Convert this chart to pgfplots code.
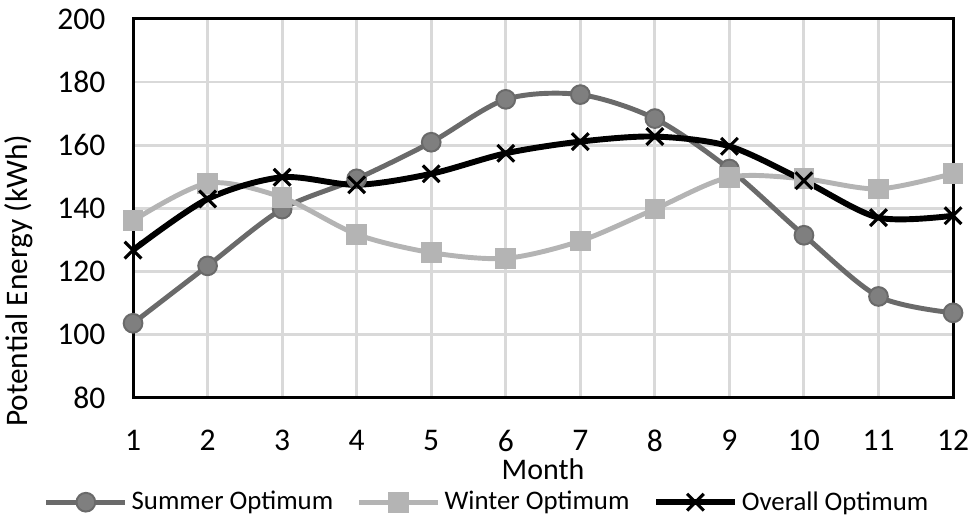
\documentclass[border=0pt]{standalone}
\usepackage{fontspec}
\setmainfont{Carlito}
\usepackage{pgfplots}
\pgfplotsset{compat=1.18}
\definecolor{sumc}{HTML}{6A6A6A}
\definecolor{sumf}{HTML}{7F7F7F}
\definecolor{winc}{HTML}{B4B4B4}
\definecolor{gridc}{HTML}{D9D9D9}
\begin{document}
\begin{tikzpicture}
\begin{axis}[
  name=ax,
  scale only axis,
  width=416pt, height=192pt,
  xmin=1, xmax=12, ymin=80, ymax=200,
  xtick={1,...,12}, ytick={80,100,...,200},
  grid=major,
  major grid style={gridc, line width=1.5pt},
  axis line style={black, line width=1.5pt},
  tick style={draw=none},
  /pgf/number format/assume math mode=true,
  tick label style={font=\fontsize{16}{19}\selectfont},
  xticklabel style={yshift=-13pt},
  yticklabel style={xshift=-10.5pt},
  xlabel={Month},
  ylabel={Potential Energy (kWh)},
  label style={font=\fontsize{15.2}{18}\selectfont},
  ylabel style={font=\fontsize{15.9}{19}\selectfont},
  xlabel style={at={(rel axis cs:0.5,-0.19)}, anchor=center},
  ylabel style={at={(rel axis cs:-0.139,0.308)}, anchor=center},
  legend columns=3,
  legend style={draw=none, font=\fontsize{13.6}{16}\selectfont,
    at={(0.433,-0.277)}, anchor=center,
    /tikz/every even column/.append style={column sep=10pt}},
  legend image code/.code={\draw[#1, mark repeat=2, mark phase=2] plot coordinates {(0pt,0pt) (20pt,0pt) (40pt,0pt)};},
  clip=false,
]
\addplot[sumc, line width=2.5pt, smooth, mark=*, mark size=4.75pt,
  mark options={fill=sumf, draw=sumc, line width=1pt}]
  coordinates {(1,103.5)(2,121.7)(3,139.7)(4,149.3)(5,160.9)(6,174.5)(7,176)(8,168.4)(9,152.4)(10,131.4)(11,112)(12,106.8)};
\addlegendentry{Summer Optimum}
\addplot[winc, line width=2.5pt, smooth, mark=square*, mark size=5pt,
  mark options={fill=winc, draw=winc, line width=0pt}]
  coordinates {(1,136)(2,147.9)(3,143.4)(4,131.7)(5,125.9)(6,124.1)(7,129.6)(8,139.7)(9,149.8)(10,149.3)(11,146.1)(12,151)};
\addlegendentry{Winter Optimum}
\addplot[black, line width=3pt, smooth, mark=x, mark size=6pt,
  mark options={line width=1.6pt}]
  coordinates {(1,126.7)(2,142.9)(3,149.8)(4,147.4)(5,150.9)(6,157.4)(7,161.1)(8,162.7)(9,159.6)(10,148.7)(11,137)(12,137.6)};
\addlegendentry{Overall Optimum}
\end{axis}
\pgfresetboundingbox
\path ([shift={(-67.5pt,-60.4pt)}]ax.south west) rectangle ([shift={(8.1pt,9.6pt)}]ax.north east);
\end{tikzpicture}
\end{document}
